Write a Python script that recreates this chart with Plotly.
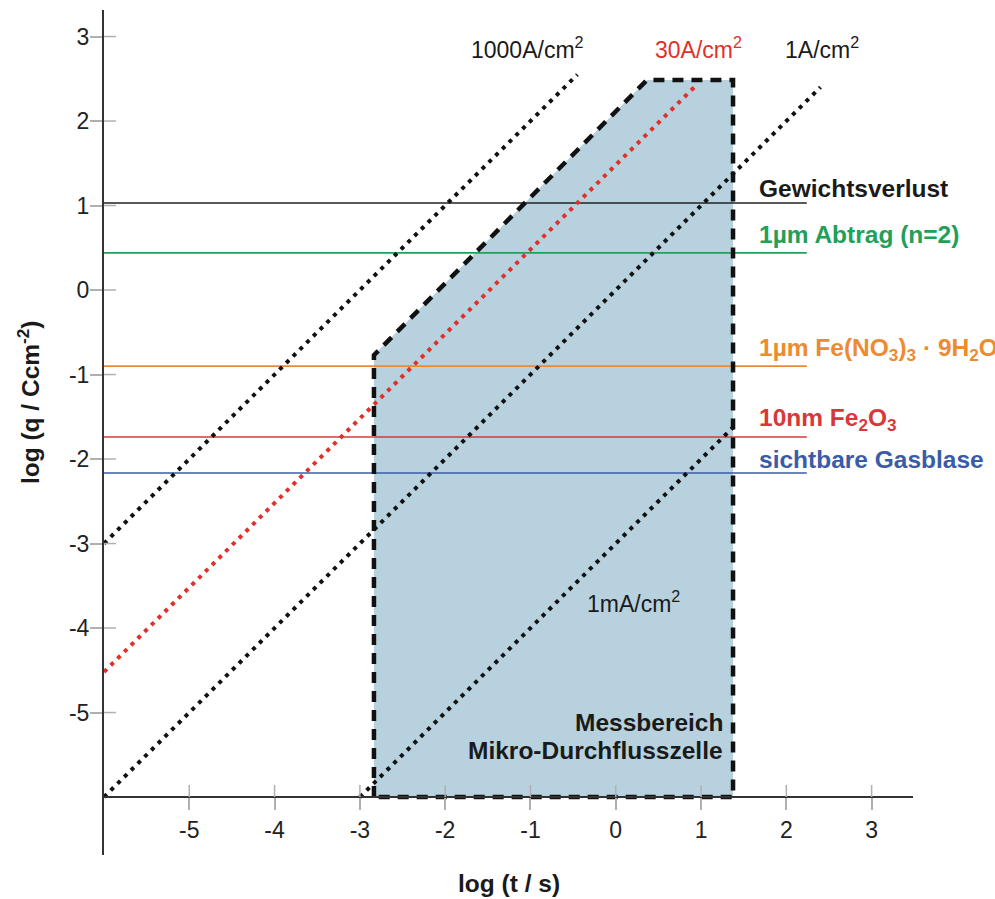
import plotly.graph_objects as go

# ---- data ----
x_ticks = [-5, -4, -3, -2, -1, 0, 1, 2, 3]
y_ticks = [-5, -4, -3, -2, -1, 0, 1, 2, 3]

# current-density lines  log q = log I + log t  (end points as read)
diag_names = ["1000A/cm²", "30A/cm²", "1A/cm²", "1mA/cm²"]
diag_x = [[-6.0, -0.45], [-6.0, 0.95], [-6.0, 2.40], [-3.0, 1.40]]
diag_y = [[-3.0, 2.55], [-4.52, 2.43], [-6.0, 2.40], [-6.0, -1.60]]
diag_colors = ["#111111", "#e0302a", "#111111", "#111111"]

# horizontal reference levels
level_names = ["Gewichtsverlust", "1µm Abtrag (n=2)", "1µm Fe(NO3)3 · 9H2O",
               "10nm Fe2O3", "sichtbare Gasblase"]
level_y = [1.03, 0.44, -0.90, -1.74, -2.165]
level_x = [-6.0, 2.24]
level_colors = ["#222222", "#21a05a", "#ee8a30", "#d8383a", "#3a5ca8"]

# measuring range of the micro flow cell
region_x = [-2.835, -2.835, 0.366, 1.375, 1.375, -2.835]
region_y = [-6.0, -0.77, 2.486, 2.486, -6.0, -6.0]

FONT = "Arial, 'Liberation Sans', sans-serif"
BOLD_SIZE = 24.5

fig = go.Figure()

# filled region (no outline)
fig.add_trace(go.Scatter(x=region_x, y=region_y, mode="lines", fill="toself",
                         fillcolor="#b7d2de", line=dict(width=0),
                         hoverinfo="skip", showlegend=False))

# horizontal levels
for name, yv, col in zip(level_names, level_y, level_colors):
    fig.add_trace(go.Scatter(x=level_x, y=[yv, yv], mode="lines",
                             line=dict(color=col, width=1.6),
                             name=name, showlegend=False))

# diagonal dotted lines
for name, xs, ys, col in zip(diag_names, diag_x, diag_y, diag_colors):
    fig.add_trace(go.Scatter(x=xs, y=ys, mode="lines",
                             line=dict(color=col, width=4, dash="4px,5.5px"),
                             name=name, showlegend=False))

# dashed outline of the region
fig.add_trace(go.Scatter(x=region_x, y=region_y, mode="lines",
                         line=dict(color="#111111", width=4.5, dash="11px,8px"),
                         hoverinfo="skip", showlegend=False))

# inner halves of the crossing tick marks
shapes = []
for t in x_ticks:
    shapes.append(dict(type="line", xref="x", yref="y", x0=t, x1=t,
                       y0=-6.0, y1=-6.0 + 12 / 84.5,
                       line=dict(color="#b0b0b0", width=1.5)))
for t in y_ticks:
    shapes.append(dict(type="line", xref="x", yref="y", x0=-6.0,
                       x1=-6.0 + 12 / 85.3, y0=t, y1=t,
                       line=dict(color="#b0b0b0", width=1.5)))

anns = []
def txt(x, y, text, color="#1a1a1a", size=23, bold=False, xanchor="left"):
    if bold:
        text = "<b>" + text + "</b>"
        size = BOLD_SIZE
    anns.append(dict(x=x, y=y, xref="x", yref="y", text=text, showarrow=False,
                     xanchor=xanchor, yanchor="middle",
                     font=dict(family=FONT, size=size, color=color)))

txt(-1.72, 2.86, "1000A/cm<sup>2</sup>")
txt(0.437, 2.86, "30A/cm<sup>2</sup>", color="#e0302a")
txt(1.96, 2.86, "1A/cm<sup>2</sup>")
txt(-0.36, -3.69, "1mA/cm<sup>2</sup>")

lx = 1.656
txt(lx, 1.207, "Gewichtsverlust", color="#1a1a1a", bold=True)
txt(lx, 0.663, "1µm Abtrag (n=2)", color="#21a05a", bold=True)
txt(lx, -0.70, "1µm Fe(NO<sub>3</sub>)<sub>3</sub> · 9H<sub>2</sub>O", color="#ee8a30", bold=True)
txt(lx, -1.53, "10nm Fe<sub>2</sub>O<sub>3</sub>", color="#d8383a", bold=True)
txt(lx, -2.011, "sichtbare Gasblase", color="#3a5ca8", bold=True)

txt(1.281, -5.112, "Messbereich", bold=True, xanchor="right")
txt(1.281, -5.444, "Mikro-Durchflusszelle", bold=True, xanchor="right")

# axis titles
anns.append(dict(x=0.5006, y=-0.0343, xref="paper", yref="paper",
                 xanchor="center", yanchor="middle",
                 text="<b>log (t / s)</b>", showarrow=False,
                 font=dict(family=FONT, size=BOLD_SIZE, color="#1a1a1a")))
anns.append(dict(x=-0.0939, y=0.536, xref="paper", yref="paper",
                 xanchor="center", yanchor="middle", textangle=-90,
                 text="<b>log (q / Ccm<sup>-2</sup>)</b>", showarrow=False,
                 font=dict(family=FONT, size=BOLD_SIZE, color="#1a1a1a")))

fig.update_layout(
    width=995, height=899,
    margin=dict(l=104, r=82, t=10, b=44),
    paper_bgcolor="white", plot_bgcolor="white",
    shapes=shapes, annotations=anns,
    xaxis=dict(range=[-6.0, 3.485], anchor="free", position=0.0686,
               showgrid=False, zeroline=False,
               showline=True, linecolor="#333333", linewidth=2,
               tickmode="array", tickvals=x_ticks,
               ticktext=[str(v) for v in x_ticks],
               ticks="outside", ticklen=12, tickwidth=1.5, tickcolor="#b0b0b0",
               ticklabelstandoff=0,
               tickfont=dict(family=FONT, size=23, color="#222222")),
    yaxis=dict(range=[-6.686, 3.314], showgrid=False, zeroline=False,
               showline=True, linecolor="#333333", linewidth=2,
               tickmode="array", tickvals=y_ticks,
               ticktext=[str(v) for v in y_ticks],
               ticks="outside", ticklen=12, tickwidth=1.5, tickcolor="#b0b0b0",
               ticklabelstandoff=-4,
               tickfont=dict(family=FONT, size=23, color="#222222")),
)

fig.write_html("out.html")
